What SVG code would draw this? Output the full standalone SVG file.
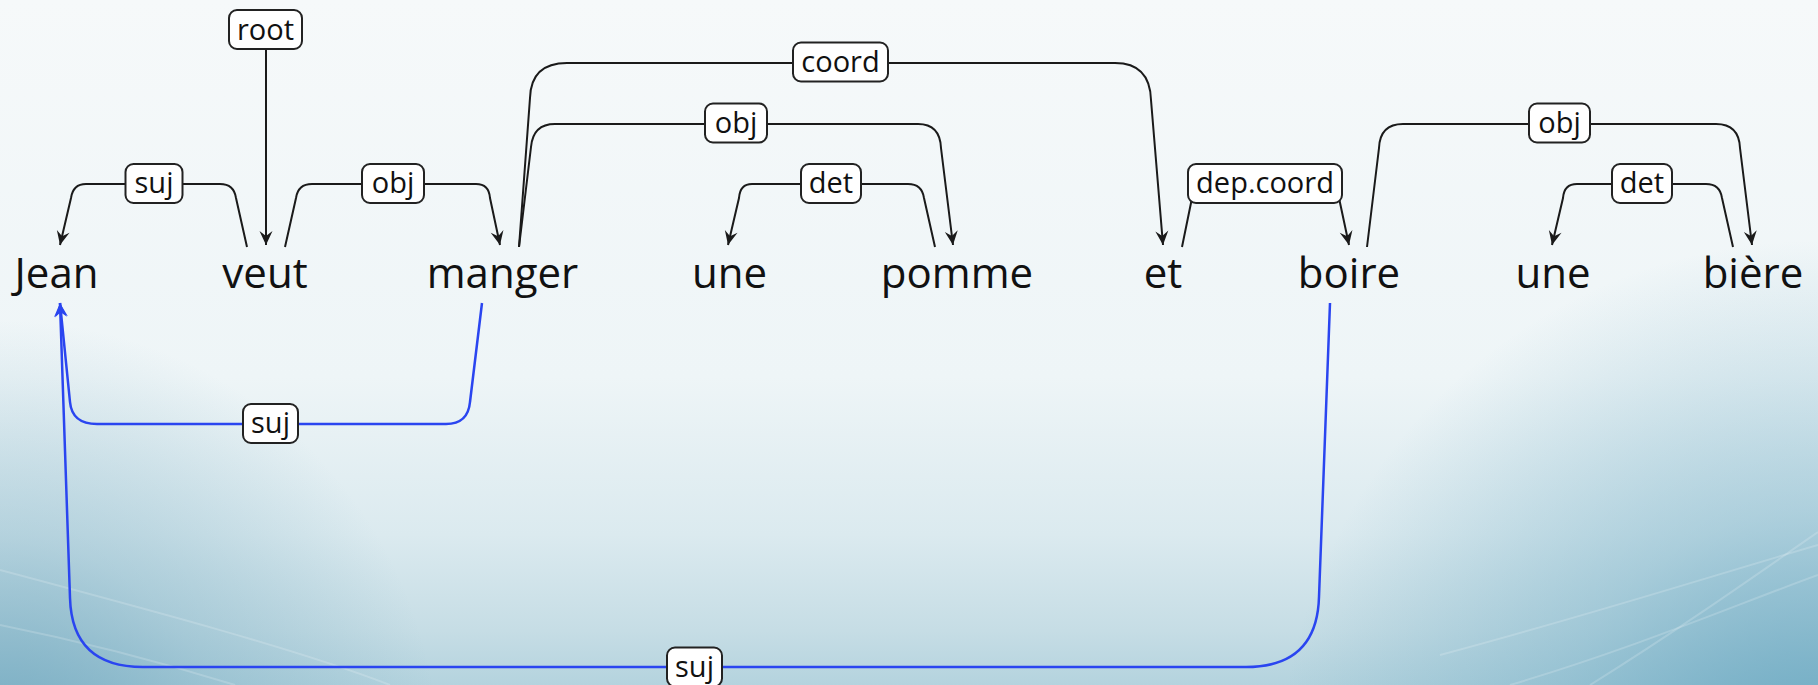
<svg xmlns="http://www.w3.org/2000/svg" width="1818" height="685" viewBox="0 0 1818 685">
<defs>
<linearGradient id="bg" x1="0" y1="0" x2="0" y2="1">
<stop offset="0" stop-color="#f6f9fa"/>
<stop offset="0.55" stop-color="#eef5f7"/>
<stop offset="0.78" stop-color="#dbeaef"/>
<stop offset="0.92" stop-color="#c6dde5"/>
<stop offset="1" stop-color="#b4d3de"/>
</linearGradient>
<radialGradient id="bl" cx="0" cy="760" r="440" gradientUnits="userSpaceOnUse">
<stop offset="0" stop-color="#6aa4bc" stop-opacity="0.85"/>
<stop offset="0.5" stop-color="#6aa4bc" stop-opacity="0.35"/>
<stop offset="1" stop-color="#6aa4bc" stop-opacity="0"/>
</radialGradient>
<radialGradient id="br" cx="1818" cy="780" r="540" gradientUnits="userSpaceOnUse">
<stop offset="0" stop-color="#66a6c0" stop-opacity="0.95"/>
<stop offset="0.5" stop-color="#66a6c0" stop-opacity="0.4"/>
<stop offset="1" stop-color="#66a6c0" stop-opacity="0"/>
</radialGradient>
<marker id="ah" viewBox="-16 -8 18 16" refX="0" refY="0" markerWidth="18" markerHeight="16" markerUnits="userSpaceOnUse" orient="auto">
<path d="M0,0 L-14,-6.5 L-9,0 L-14,6.5 Z" fill="#1a1a1a"/>
</marker>
<marker id="ahb" viewBox="-16 -8 18 16" refX="0" refY="0" markerWidth="18" markerHeight="16" markerUnits="userSpaceOnUse" orient="auto">
<path d="M0,0 L-14,-6.5 L-9,0 L-14,6.5 Z" fill="#2a45f0"/>
</marker>
<style>
.w{font-family:"Open Sans","Noto Sans",sans-serif;font-size:42px;fill:#111;text-anchor:middle}
.e{fill:none;stroke:#1a1a1a;stroke-width:2}
.b{fill:none;stroke:#2a45f0;stroke-width:2.5}
.lb{fill:#fff;stroke:#222;stroke-width:2}
.lt{font-family:"Open Sans","Noto Sans",sans-serif;font-size:29px;fill:#111;text-anchor:middle}
.sw{fill:none;stroke:#fff;stroke-opacity:0.18;stroke-width:2}
</style>
</defs>
<g id="background">
<rect width="1818" height="685" fill="url(#bg)"/>
<rect width="1818" height="685" fill="url(#bl)"/>
<rect width="1818" height="685" fill="url(#br)"/>
<path class="sw" d="M0,570 C150,610 300,650 390,685"/>
<path class="sw" d="M0,625 C100,645 180,668 235,685"/>
<path class="sw" d="M1440,655 C1590,615 1715,575 1818,545"/>
<path class="sw" d="M1590,685 C1675,632 1752,578 1818,532"/>
<path class="sw" d="M1510,685 C1635,648 1738,604 1818,575"/>
</g>
<g id="connectors">
<g id="e-root"><path class="e" d="M266,49 L266,245" marker-end="url(#ah)"/><rect class="lb" x="229" y="10" width="73" height="39" rx="8"/><text class="lt" x="265.5" y="39.5">root</text></g>
<g id="e-suj1"><path class="e" d="M247,247 L236,198 Q234,184 220,184 L86,184 Q73,184 71,198 L60,245" marker-end="url(#ah)"/><rect class="lb" x="125.5" y="164" width="57" height="39" rx="8"/><text class="lt" x="154" y="193">suj</text></g>
<g id="e-obj1"><path class="e" d="M285,247 L296,198 Q298,184 312,184 L476,184 Q489,184 490,198 L500,245" marker-end="url(#ah)"/><rect class="lb" x="362" y="164" width="62" height="39" rx="8"/><text class="lt" x="393" y="193">obj</text></g>
<g id="e-coord"><path class="e" d="M519,247 L530,98 Q531,63 567,63 L1115,63 Q1150,63 1151,100 L1163,245" marker-end="url(#ah)"/><rect class="lb" x="793" y="42.5" width="95" height="39" rx="8"/><text class="lt" x="840.5" y="71.5">coord</text></g>
<g id="e-obj2"><path class="e" d="M519,247 L531,147 Q533,124 555,124 L918,124 Q940,124 941,148 L953,245" marker-end="url(#ah)"/><rect class="lb" x="705" y="103.5" width="62" height="39" rx="8"/><text class="lt" x="736" y="132.5">obj</text></g>
<g id="e-det1"><path class="e" d="M935,247 L924,198 Q922,184 908,184 L752,184 Q740,184 739,198 L728,245" marker-end="url(#ah)"/><rect class="lb" x="801" y="164" width="60" height="39" rx="8"/><text class="lt" x="831" y="193">det</text></g>
<g id="e-depcoord"><path class="e" d="M1182,247 L1192,198 Q1194,184 1208,184 L1325,184 Q1338,184 1339,198 L1349,245" marker-end="url(#ah)"/><rect class="lb" x="1188" y="164" width="154" height="39" rx="8"/><text class="lt" x="1265" y="193">dep.coord</text></g>
<g id="e-obj3"><path class="e" d="M1367,247 L1379,148 Q1380,124 1403,124 L1716,124 Q1739,124 1740,148 L1752,245" marker-end="url(#ah)"/><rect class="lb" x="1529" y="103.5" width="61" height="39" rx="8"/><text class="lt" x="1559.5" y="132.5">obj</text></g>
<g id="e-det2"><path class="e" d="M1733,247 L1722,198 Q1720,184 1706,184 L1577,184 Q1564,184 1563,198 L1552,245" marker-end="url(#ah)"/><rect class="lb" x="1612" y="164" width="60" height="39" rx="8"/><text class="lt" x="1642" y="193">det</text></g>
<g id="e-suj2"><path class="b" d="M482,303 L470,402 Q468,424 446,424 L97,424 Q72,424 70,402 L60,303" marker-end="url(#ahb)"/><rect class="lb" x="243" y="404" width="55" height="39" rx="8"/><text class="lt" x="270.5" y="433">suj</text></g>
<g id="e-suj3"><path class="b" d="M1330,303 L1319,597 Q1317,667 1246,667 L143,667 Q72,667 70,598 L60,303" marker-end="url(#ahb)"/><rect class="lb" x="667" y="647.5" width="55" height="39" rx="8"/><text class="lt" x="694.5" y="676.5">suj</text></g>
</g>
<g id="n-jean"><text class="w" x="56.5" y="288">Jean</text></g>
<g id="n-veut"><text class="w" x="265" y="288">veut</text></g>
<g id="n-manger"><text class="w" x="502.5" y="288">manger</text></g>
<g id="n-une1"><text class="w" x="729.5" y="288">une</text></g>
<g id="n-pomme"><text class="w" x="957" y="288">pomme</text></g>
<g id="n-et"><text class="w" x="1163" y="288">et</text></g>
<g id="n-boire"><text class="w" x="1349" y="288">boire</text></g>
<g id="n-une2"><text class="w" x="1553" y="288">une</text></g>
<g id="n-biere"><text class="w" x="1753" y="288">bière</text></g>
</svg>
